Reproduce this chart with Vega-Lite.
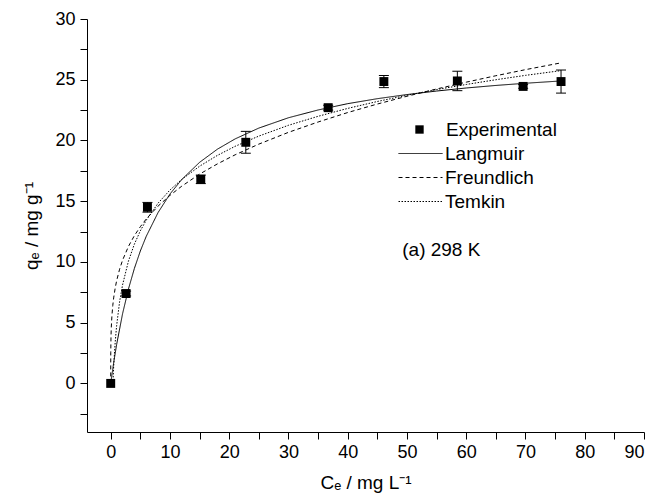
{
  "$schema": "https://vega.github.io/schema/vega-lite/v6.json",
  "width": 557,
  "height": 413,
  "autosize": "none",
  "padding": {"left": 87, "top": 19, "right": 12, "bottom": 68},
  "background": "white",
  "config": {
    "view": {"stroke": null},
    "font": "Liberation Sans",
    "axis": {
      "grid": false,
      "domainColor": "black",
      "domainWidth": 1,
      "tickColor": "black",
      "tickWidth": 1,
      "tickSize": 7,
      "tickCount": 60,
      "labelOverlap": false,
      "labelColor": "black",
      "titleColor": "black",
      "labelFont": "Liberation Sans",
      "titleFont": "Liberation Sans",
      "labelFontSize": 18,
      "titleFontSize": 19,
      "titleFontWeight": "normal"
    },
    "legend": {
      "labelFont": "Liberation Sans",
      "labelFontSize": 19,
      "labelColor": "black",
      "padding": 0
    }
  },
  "datasets": {
    "experimental": [
      {"c": 0, "q": 0},
      {"c": 2.6, "q": 7.4},
      {"c": 6.2, "q": 14.5},
      {"c": 15.2, "q": 16.8},
      {"c": 22.8, "q": 19.85},
      {"c": 36.7, "q": 22.7},
      {"c": 46.1, "q": 24.85},
      {"c": 58.5, "q": 24.9},
      {"c": 69.6, "q": 24.45},
      {"c": 76.0, "q": 24.85}
    ],
    "errors": [
      {"c": 2.6, "lo": 7.2, "hi": 7.6},
      {"c": 6.2, "lo": 14.1, "hi": 14.9},
      {"c": 15.2, "lo": 16.45, "hi": 17.15},
      {"c": 22.8, "lo": 18.95, "hi": 20.75},
      {"c": 36.7, "lo": 22.5, "hi": 22.9},
      {"c": 46.1, "lo": 24.35, "hi": 25.35},
      {"c": 58.5, "lo": 24.1, "hi": 25.7},
      {"c": 69.6, "lo": 24.3, "hi": 24.6},
      {"c": 76.0, "lo": 23.9, "hi": 25.8}
    ],
    "models": [
      {"series": "Langmuir", "c": 0, "q": 0},
      {"series": "Langmuir", "c": 0.5, "q": 1.70},
      {"series": "Langmuir", "c": 1, "q": 3.20},
      {"series": "Langmuir", "c": 2, "q": 5.73},
      {"series": "Langmuir", "c": 3, "q": 7.78},
      {"series": "Langmuir", "c": 4, "q": 9.47},
      {"series": "Langmuir", "c": 5, "q": 10.90},
      {"series": "Langmuir", "c": 6, "q": 12.11},
      {"series": "Langmuir", "c": 8, "q": 14.07},
      {"series": "Langmuir", "c": 10, "q": 15.59},
      {"series": "Langmuir", "c": 12, "q": 16.79},
      {"series": "Langmuir", "c": 15, "q": 18.20},
      {"series": "Langmuir", "c": 18, "q": 19.28},
      {"series": "Langmuir", "c": 21, "q": 20.13},
      {"series": "Langmuir", "c": 25, "q": 21.02},
      {"series": "Langmuir", "c": 30, "q": 21.87},
      {"series": "Langmuir", "c": 35, "q": 22.51},
      {"series": "Langmuir", "c": 40, "q": 23.03},
      {"series": "Langmuir", "c": 45, "q": 23.44},
      {"series": "Langmuir", "c": 50, "q": 23.78},
      {"series": "Langmuir", "c": 55, "q": 24.07},
      {"series": "Langmuir", "c": 60, "q": 24.32},
      {"series": "Langmuir", "c": 65, "q": 24.53},
      {"series": "Langmuir", "c": 70, "q": 24.71},
      {"series": "Langmuir", "c": 76, "q": 24.90},
      {"series": "Freundlich", "c": 0, "q": 0},
      {"series": "Freundlich", "c": 0.01, "q": 2.52},
      {"series": "Freundlich", "c": 0.05, "q": 3.84},
      {"series": "Freundlich", "c": 0.1, "q": 4.61},
      {"series": "Freundlich", "c": 0.2, "q": 5.53},
      {"series": "Freundlich", "c": 0.35, "q": 6.41},
      {"series": "Freundlich", "c": 0.5, "q": 7.04},
      {"series": "Freundlich", "c": 0.75, "q": 7.83},
      {"series": "Freundlich", "c": 1, "q": 8.45},
      {"series": "Freundlich", "c": 1.5, "q": 9.40},
      {"series": "Freundlich", "c": 2, "q": 10.14},
      {"series": "Freundlich", "c": 3, "q": 11.28},
      {"series": "Freundlich", "c": 4, "q": 12.17},
      {"series": "Freundlich", "c": 5, "q": 12.90},
      {"series": "Freundlich", "c": 6, "q": 13.54},
      {"series": "Freundlich", "c": 8, "q": 14.60},
      {"series": "Freundlich", "c": 10, "q": 15.48},
      {"series": "Freundlich", "c": 12, "q": 16.24},
      {"series": "Freundlich", "c": 15, "q": 17.23},
      {"series": "Freundlich", "c": 18, "q": 18.07},
      {"series": "Freundlich", "c": 21, "q": 18.82},
      {"series": "Freundlich", "c": 25, "q": 19.70},
      {"series": "Freundlich", "c": 30, "q": 20.67},
      {"series": "Freundlich", "c": 35, "q": 21.52},
      {"series": "Freundlich", "c": 40, "q": 22.30},
      {"series": "Freundlich", "c": 45, "q": 23.00},
      {"series": "Freundlich", "c": 50, "q": 23.64},
      {"series": "Freundlich", "c": 55, "q": 24.24},
      {"series": "Freundlich", "c": 60, "q": 24.80},
      {"series": "Freundlich", "c": 65, "q": 25.33},
      {"series": "Freundlich", "c": 70, "q": 25.83},
      {"series": "Freundlich", "c": 76, "q": 26.39},
      {"series": "Temkin", "c": 0.376, "q": 0},
      {"series": "Temkin", "c": 0.5, "q": 1.39},
      {"series": "Temkin", "c": 0.75, "q": 3.35},
      {"series": "Temkin", "c": 1, "q": 4.75},
      {"series": "Temkin", "c": 1.5, "q": 6.72},
      {"series": "Temkin", "c": 2, "q": 8.11},
      {"series": "Temkin", "c": 3, "q": 10.08},
      {"series": "Temkin", "c": 4, "q": 11.47},
      {"series": "Temkin", "c": 5, "q": 12.56},
      {"series": "Temkin", "c": 6, "q": 13.44},
      {"series": "Temkin", "c": 8, "q": 14.84},
      {"series": "Temkin", "c": 10, "q": 15.92},
      {"series": "Temkin", "c": 12, "q": 16.80},
      {"series": "Temkin", "c": 15, "q": 17.88},
      {"series": "Temkin", "c": 18, "q": 18.77},
      {"series": "Temkin", "c": 21, "q": 19.52},
      {"series": "Temkin", "c": 25, "q": 20.36},
      {"series": "Temkin", "c": 30, "q": 21.25},
      {"series": "Temkin", "c": 35, "q": 21.99},
      {"series": "Temkin", "c": 40, "q": 22.64},
      {"series": "Temkin", "c": 45, "q": 23.21},
      {"series": "Temkin", "c": 50, "q": 23.72},
      {"series": "Temkin", "c": 55, "q": 24.19},
      {"series": "Temkin", "c": 60, "q": 24.61},
      {"series": "Temkin", "c": 65, "q": 25.00},
      {"series": "Temkin", "c": 70, "q": 25.36},
      {"series": "Temkin", "c": 76, "q": 25.75}
    ]
  },
  "layer": [
    {
      "data": {"name": "models"},
      "mark": {"type": "line", "color": "black", "strokeWidth": 1},
      "encoding": {
        "x": {
          "field": "c",
          "type": "quantitative",
          "title": "Cₑ / mg L⁻¹",
          "scale": {"domain": [-4, 90], "nice": false, "zero": false},
          "axis": {
            "values": [0, 5, 10, 15, 20, 25, 30, 35, 40, 45, 50, 55, 60, 65, 70, 75, 80, 85, 90],
            "labelExpr": "datum.value % 10 === 0 ? datum.label : ''",
            "labelPadding": 4,
            "titlePadding": 12,
            "encode": {
              "ticks": {"update": {"y2": {"signal": "datum.value % 10 === 0 ? 7 : 4"}}}
            }
          }
        },
        "y": {
          "field": "q",
          "type": "quantitative",
          "title": "qₑ / mg g⁻¹",
          "scale": {"domain": [-4, 30], "nice": false, "zero": false},
          "axis": {
            "values": [-2.5, 0, 2.5, 5, 7.5, 10, 12.5, 15, 17.5, 20, 22.5, 25, 27.5, 30],
            "labelExpr": "datum.value % 5 === 0 ? format(datum.value, 'd') : ''",
            "labelPadding": 5,
            "titlePadding": 13,
            "encode": {
              "ticks": {"update": {"x2": {"signal": "datum.value % 5 === 0 ? -7 : -4"}}}
            }
          }
        },
        "strokeDash": {
          "field": "series",
          "type": "nominal",
          "scale": {
            "domain": ["Langmuir", "Freundlich", "Temkin"],
            "range": [[1, 0], [4, 3], [1.5, 1.5]]
          },
          "legend": {
            "title": null,
            "orient": "none",
            "legendX": 324,
            "legendY": 125,
            "symbolType": "M-4.4,0H4.4",
            "symbolSize": 100,
            "symbolStrokeWidth": 1,
            "symbolStrokeColor": "black",
            "labelOffset": 15,
            "rowPadding": 4
          }
        }
      }
    },
    {
      "data": {"name": "errors"},
      "mark": {
        "type": "errorbar",
        "color": "black",
        "opacity": 1,
        "thickness": 1,
        "rule": {"color": "black", "opacity": 1, "strokeWidth": 1},
        "ticks": {"size": 10, "color": "black", "opacity": 1, "thickness": 1}
      },
      "encoding": {
        "x": {"field": "c", "type": "quantitative", "title": "Cₑ / mg L⁻¹"},
        "y": {"field": "lo", "type": "quantitative", "title": "qₑ / mg g⁻¹"},
        "y2": {"field": "hi"}
      }
    },
    {
      "data": {"name": "experimental"},
      "mark": {"type": "point", "filled": true, "color": "black", "opacity": 1, "size": 80},
      "encoding": {
        "x": {"field": "c", "type": "quantitative", "title": "Cₑ / mg L⁻¹"},
        "y": {"field": "q", "type": "quantitative", "title": "qₑ / mg g⁻¹"},
        "shape": {
          "datum": "Experimental",
          "type": "nominal",
          "scale": {"domain": ["Experimental"], "range": ["square"]},
          "legend": {
            "title": null,
            "orient": "none",
            "legendX": 323,
            "legendY": 101,
            "symbolSize": 70,
            "symbolFillColor": "black",
            "symbolStrokeColor": "black",
            "labelOffset": 17
          }
        }
      }
    },
    {
      "data": {"values": [{}]},
      "mark": {"type": "text", "text": "(a) 298 K", "align": "left", "baseline": "middle", "font": "Liberation Sans", "fontSize": 19, "color": "black"},
      "encoding": {
        "x": {"datum": 49.2, "type": "quantitative"},
        "y": {"datum": 10.95, "type": "quantitative"}
      }
    }
  ]
}
